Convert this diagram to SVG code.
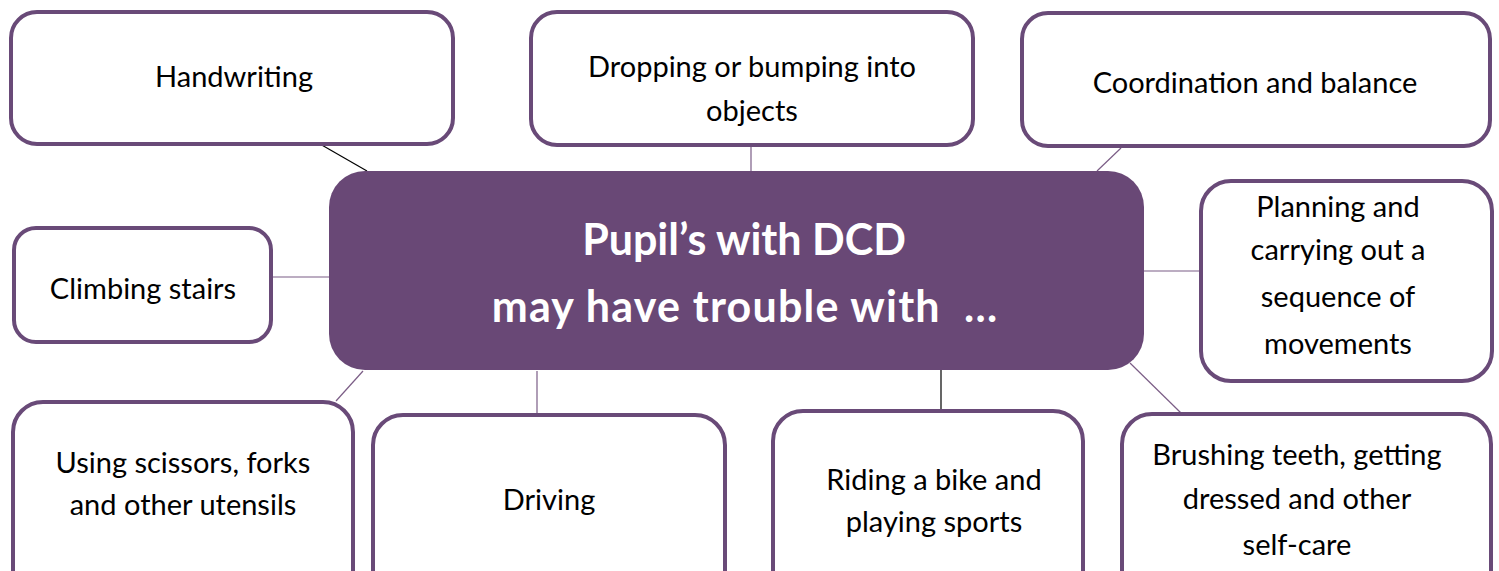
<svg xmlns="http://www.w3.org/2000/svg" width="1499" height="571" viewBox="0 0 1499 571">
<style>
.box{fill:#ffffff;stroke:#694a78;stroke-width:4}
.t{font-family:Lato,"Liberation Sans",sans-serif;font-size:29px;fill:#000;text-anchor:middle}
.c{font-family:Lato,"Liberation Sans",sans-serif;font-size:43px;font-weight:bold;fill:#fff;text-anchor:middle}
.lk{stroke:#7b5d86;stroke-width:1.2;fill:none}
.lb{stroke:#000;stroke-width:1.2;fill:none}
</style>
<rect width="1499" height="571" fill="#fff"/>
<g id="connectors">
<line class="lb" x1="320" y1="144" x2="367" y2="171"/>
<line class="lk" x1="751" y1="145" x2="751" y2="171"/>
<line class="lk" x1="1121" y1="148" x2="1097" y2="171"/>
<line class="lk" x1="1144" y1="271" x2="1200" y2="271"/>
<line class="lk" x1="271" y1="277" x2="329" y2="277"/>
<line class="lk" x1="336" y1="401" x2="363" y2="371"/>
<line class="lk" x1="537" y1="371" x2="537" y2="414"/>
<line class="lb" x1="941" y1="366" x2="941" y2="411"/>
<line class="lk" x1="1130" y1="363" x2="1181" y2="413"/>
</g>
<g id="center">
<rect x="329" y="171" width="815" height="199" rx="36" fill="#694876"/>
<text class="c" x="744" y="255">Pupil’s with DCD</text>
<text class="c" x="745" y="322" xml:space="preserve" letter-spacing="1.2">may have trouble with  ...</text>
</g>
<g id="handwriting">
<rect class="box" x="11" y="12" width="442" height="132" rx="26"/>
<text class="t" x="234" y="87">Handwriting</text>
</g>
<g id="dropping">
<rect class="box" x="531" y="12" width="442" height="133" rx="26"/>
<text class="t" x="752" y="77">Dropping or bumping into</text>
<text class="t" x="752" y="121">objects</text>
</g>
<g id="coordination">
<rect class="box" x="1022" y="13" width="468" height="133" rx="26"/>
<text class="t" x="1255" y="93">Coordination and balance</text>
</g>
<g id="planning">
<rect class="box" x="1201" y="181" width="291" height="200" rx="30"/>
<text class="t" x="1338" y="217">Planning and</text>
<text class="t" x="1338" y="260">carrying out a</text>
<text class="t" x="1338" y="307">sequence of</text>
<text class="t" x="1338" y="354">movements</text>
</g>
<g id="climbing">
<rect class="box" x="14" y="228" width="257" height="114" rx="22"/>
<text class="t" x="143" y="299">Climbing stairs</text>
</g>
<g id="scissors">
<rect class="box" x="13" y="402" width="340" height="200" rx="30"/>
<text class="t" x="183" y="473">Using scissors, forks</text>
<text class="t" x="183" y="515">and other utensils</text>
</g>
<g id="driving">
<rect class="box" x="373" y="415" width="352" height="190" rx="30"/>
<text class="t" x="549" y="510">Driving</text>
</g>
<g id="riding">
<rect class="box" x="773" y="411" width="310" height="190" rx="30"/>
<text class="t" x="934" y="490">Riding a bike and</text>
<text class="t" x="934" y="532">playing sports</text>
</g>
<g id="brushing">
<rect class="box" x="1122" y="414" width="369" height="190" rx="30"/>
<text class="t" x="1297" y="465">Brushing teeth, getting</text>
<text class="t" x="1297" y="509">dressed and other</text>
<text class="t" x="1297" y="555">self-care</text>
</g>
</svg>
